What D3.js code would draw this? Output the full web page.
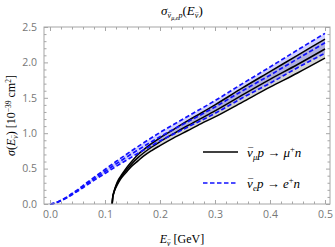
<!DOCTYPE html>
<html>
<head>
<meta charset="utf-8">
<script src="https://cdn.jsdelivr.net/npm/d3@7"></script>
<style>
  body { margin: 0; background: #fff; }
  svg { display: block; }
  .tick text { font-family: "Open Sans", "Liberation Sans", sans-serif; font-size: 10.5px; fill: #777; }
  .serif { font-family: "Liberation Serif", "DejaVu Serif", serif; fill: #000; }
</style>
</head>
<body>
<svg id="chart" width="335" height="247"></svg>
<script>
"use strict";

// anti-muon channel (starts at threshold ~0.113 GeV)
const muEnergy = [0.1131, 0.114, 0.116, 0.118, 0.12, 0.125, 0.13, 0.14, 0.15, 0.16, 0.17, 0.185, 0.2, 0.225, 0.25, 0.275, 0.3, 0.35, 0.4, 0.45, 0.5];
const muMid = [0, 0.09, 0.16, 0.21, 0.25, 0.33, 0.39, 0.49, 0.58, 0.655, 0.72, 0.805, 0.88, 0.995, 1.105, 1.21, 1.315, 1.54, 1.76, 1.97, 2.19];
const muHi = [0, 0.095, 0.17, 0.22, 0.265, 0.35, 0.41, 0.52, 0.615, 0.70, 0.765, 0.855, 0.935, 1.055, 1.175, 1.285, 1.40, 1.64, 1.87, 2.10, 2.33];
const muLo = [0, 0.085, 0.15, 0.20, 0.235, 0.31, 0.37, 0.46, 0.545, 0.61, 0.675, 0.755, 0.825, 0.935, 1.035, 1.135, 1.23, 1.44, 1.65, 1.85, 2.06];

// electron channel
const eEnergy = [0, 0.01, 0.02, 0.03, 0.04, 0.05, 0.06, 0.08, 0.1, 0.12, 0.15, 0.2, 0.25, 0.3, 0.35, 0.4, 0.45, 0.5];
const eMid = [0, 0.015, 0.05, 0.09, 0.14, 0.19, 0.245, 0.355, 0.46, 0.565, 0.715, 0.95, 1.16, 1.37, 1.60, 1.82, 2.05, 2.276];
const eHi = [0, 0.016, 0.053, 0.095, 0.148, 0.2, 0.26, 0.376, 0.488, 0.6, 0.76, 1.01, 1.235, 1.46, 1.70, 1.935, 2.175, 2.41];
const eLo = [0, 0.014, 0.047, 0.085, 0.132, 0.18, 0.23, 0.334, 0.432, 0.53, 0.67, 0.89, 1.085, 1.28, 1.50, 1.705, 1.925, 2.13];

const xTicks = [0, 0.1, 0.2, 0.3, 0.4, 0.5];
const yTicks = [0, 0.5, 1.0, 1.5, 2.0, 2.5];

const svg = d3.select("#chart");
const plotLeft = 44, plotRight = 330, plotTop = 27, plotBottom = 204;

const x = d3.scaleLinear().domain([-0.0109, 0.5091]).range([plotLeft, plotRight]);
const y = d3.scaleLinear().domain([0, 2.5]).range([plotBottom, plotTop]);

const xMinor = d3.range(0, 0.5001, 0.02).filter(v => Math.abs(v * 10 - Math.round(v * 10)) > 1e-6);
const yMinor = d3.range(0, 2.5001, 0.1).filter(v => Math.abs(v * 2 - Math.round(v * 2)) > 1e-6);

// shaded bands
function band(xs, lo, hi) {
  return d3.area()
    .x((d, i) => x(xs[i]))
    .y0((d, i) => y(lo[i]))
    .y1((d, i) => y(hi[i]))
    .curve(d3.curveMonotoneX)(xs);
}
function line(xs, ys) {
  return d3.line()
    .x((d, i) => x(xs[i]))
    .y((d, i) => y(ys[i]))
    .curve(d3.curveMonotoneX)(xs);
}

svg.append("path").attr("d", band(muEnergy, muLo, muHi))
  .attr("fill", "#000").attr("fill-opacity", 0.17);
svg.append("path").attr("d", band(eEnergy, eLo, eHi))
  .attr("fill", "#3333ff").attr("fill-opacity", 0.22);

[muHi, muMid, muLo].forEach(ys => {
  svg.append("path").attr("d", line(muEnergy, ys))
    .attr("fill", "none").attr("stroke", "#000").attr("stroke-width", 1.5);
});
[eHi, eMid, eLo].forEach(ys => {
  svg.append("path").attr("d", line(eEnergy, ys))
    .attr("fill", "none").attr("stroke", "#1010ff").attr("stroke-width", 1.7)
    .attr("stroke-dasharray", "4.5,2.5");
});

// frame and ticks
const frameColor = "#a6a6a6";
function styleAxis(g) {
  g.select(".domain").remove();
  g.selectAll(".tick line").attr("stroke", frameColor);
}
svg.append("g").attr("transform", `translate(0,${plotBottom})`)
  .call(d3.axisBottom(x).tickValues(xTicks).tickFormat(d3.format(".1f")).tickSizeInner(-4).tickPadding(7))
  .call(styleAxis);
svg.append("g").attr("transform", `translate(0,${plotBottom})`)
  .call(d3.axisBottom(x).tickValues(xMinor).tickFormat("").tickSizeInner(-2.5))
  .call(styleAxis);
svg.append("g").attr("transform", `translate(0,${plotTop})`)
  .call(d3.axisTop(x).tickValues(xTicks).tickFormat("").tickSizeInner(-4))
  .call(styleAxis);
svg.append("g").attr("transform", `translate(0,${plotTop})`)
  .call(d3.axisTop(x).tickValues(xMinor).tickFormat("").tickSizeInner(-2.5))
  .call(styleAxis);
svg.append("g").attr("transform", `translate(${plotLeft},0)`)
  .call(d3.axisLeft(y).tickValues(yTicks).tickFormat(d3.format(".1f")).tickSizeInner(-4).tickPadding(7))
  .call(styleAxis);
svg.append("g").attr("transform", `translate(${plotLeft},0)`)
  .call(d3.axisLeft(y).tickValues(yMinor).tickFormat("").tickSizeInner(-2.5))
  .call(styleAxis);
svg.append("g").attr("transform", `translate(${plotRight},0)`)
  .call(d3.axisRight(y).tickValues(yTicks).tickFormat("").tickSizeInner(-4))
  .call(styleAxis);
svg.append("g").attr("transform", `translate(${plotRight},0)`)
  .call(d3.axisRight(y).tickValues(yMinor).tickFormat("").tickSizeInner(-2.5))
  .call(styleAxis);

svg.append("rect").attr("x", plotLeft).attr("y", plotTop)
  .attr("width", plotRight - plotLeft).attr("height", plotBottom - plotTop)
  .attr("fill", "none").attr("stroke", frameColor).attr("stroke-width", 1);

// nu with a bar: "ν" then a smaller macron pulled back over it
function nuBar(t, size, dyIn) {
  t.append("tspan").attr("font-size", size).attr("font-style", "italic")
    .attr("dy", dyIn).text("ν");
  t.append("tspan").attr("font-size", 0.75 * size).attr("font-style", "normal")
    .attr("dx", -0.35 * size).attr("dy", -0.16 * size).text("¯");
  return 0.16 * size; // dy to restore
}

// title
const title = svg.append("text").attr("class", "serif")
  .attr("x", 182).attr("y", 15).attr("text-anchor", "middle").attr("font-size", 13);
title.append("tspan").attr("font-style", "italic").text("σ");
let back = nuBar(title, 8, 3);
title.append("tspan").attr("font-size", 6).attr("dy", back + 1.5).attr("font-style", "italic").text("μ,e");
title.append("tspan").attr("font-size", 8).attr("dy", -1.5).attr("font-style", "italic").text("p");
title.append("tspan").attr("dy", -3).text("(");
title.append("tspan").attr("font-style", "italic").text("E");
back = nuBar(title, 8, 3);
title.append("tspan").attr("dy", back - 3).text(")");

// x label
const xl = svg.append("text").attr("class", "serif")
  .attr("x", 182).attr("y", 243).attr("text-anchor", "middle").attr("font-size", 12);
xl.append("tspan").attr("font-style", "italic").text("E");
back = nuBar(xl, 7.5, 2.5);
xl.append("tspan").attr("dy", back - 2.5).text(" [GeV]");

// y label
const yl = svg.append("text").attr("class", "serif")
  .attr("transform", `translate(15,${(plotTop + plotBottom) / 2}) rotate(-90)`)
  .attr("text-anchor", "middle").attr("font-size", 12);
yl.append("tspan").attr("font-style", "italic").text("σ");
yl.append("tspan").text("(");
yl.append("tspan").attr("font-style", "italic").text("E");
back = nuBar(yl, 7.5, 2.5);
yl.append("tspan").attr("dy", back - 2.5).text(") [10");
yl.append("tspan").attr("font-size", 7.5).attr("dy", -4.5).text("−39");
yl.append("tspan").attr("dy", 4.5).text(" cm");
yl.append("tspan").attr("font-size", 7.5).attr("dy", -4.5).text("2");
yl.append("tspan").attr("dy", 4.5).text("]");

// legend
const legend = svg.append("g");
legend.append("line").attr("x1", 203).attr("x2", 238).attr("y1", 152).attr("y2", 152)
  .attr("stroke", "#000").attr("stroke-width", 1.5);
legend.append("line").attr("x1", 203).attr("x2", 238).attr("y1", 183).attr("y2", 183)
  .attr("stroke", "#1010ff").attr("stroke-width", 1.7).attr("stroke-dasharray", "4.5,2.5");

function legendLabel(yPos, sub, lepton) {
  const t = legend.append("text").attr("class", "serif")
    .attr("x", 247).attr("y", yPos).attr("font-size", 13).attr("font-style", "italic");
  const b = nuBar(t, 13, 0);
  t.append("tspan").attr("font-size", 8.5).attr("dy", b + 3).text(sub);
  t.append("tspan").attr("dy", -3).text("p");
  t.append("tspan").attr("font-style", "normal").text(" → ");
  t.append("tspan").text(lepton);
  t.append("tspan").attr("font-size", 8.5).attr("dy", -5.5).attr("font-style", "normal").text("+");
  t.append("tspan").attr("dy", 5.5).text("n");
}
legendLabel(157, "μ", "μ");
legendLabel(188, "e", "e");
</script>
</body>
</html>
